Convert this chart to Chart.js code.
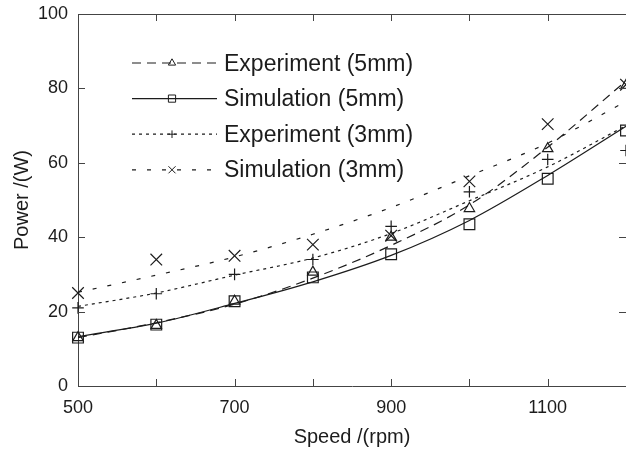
<!DOCTYPE html>
<html><head><meta charset="utf-8">
<script src="https://cdn.jsdelivr.net/npm/chart.js@4.4.0/dist/chart.umd.min.js"></script>
<style>html,body{margin:0;padding:0;background:#fff;overflow:hidden}canvas{display:block}</style>
</head><body>
<canvas id="c" width="626" height="454"></canvas>
<script>
// ---- data ----
const speeds = [500, 600, 700, 800, 900, 1000, 1100, 1200];
// measured markers
const exp5 = [13, 16.3, 22.8, 30.6, 40, 47.7, 63.8, 80.8];
const sim5 = [13, 16.5, 22.8, 29.2, 35.4, 43.5, 55.7, 68.7];
const exp3 = [21, 24.8, 30, 34, 42.9, 52.2, 60.9, 63.3];
const sim3 = [25, 34, 35, 38, 40.4, 55, 70.4, 81];
// trend curves at each speed
const exp5Fit = [13, 17, 22, 29, 37.8, 48.7, 64.2, 82];
const sim5Fit = [13.3, 16.9, 22.2, 28, 35.1, 44.5, 56.6, 69.8];
const exp3Fit = [21.4, 25, 29.8, 34.4, 41, 49.8, 58.9, 70];
const sim3Fit = [25.2, 29.8, 34.7, 40.8, 48, 56.5, 65.3, 76.5];
const labels = ['Experiment (5mm)', 'Simulation (5mm)', 'Experiment (3mm)', 'Simulation (3mm)'];
const xLabelValues = [500, 700, 900, 1100];
const yRange = [0, 100];
const xRange = [500, 1200];

const FONT = "'Liberation Sans', Arial, Helvetica, sans-serif";
const INK = '#1c1c1c';
const AXIS = '#444';

const styles = [
  {dash: [9, 6], point: 'triangle', r: 6, lr: 4.2},
  {dash: [], point: 'rect', r: 7.6, lr: 3.6},
  {dash: [3, 4], point: 'cross', r: 5.8, lr: 3.8},
  {dash: [4, 11], point: 'crossRot', r: 8.2, lr: 5},
];
const markSets = [exp5, sim5, exp3, sim3];
const fitSets = [exp5Fit, sim5Fit, exp3Fit, sim3Fit];

function pts(ys) { return speeds.map((x, i) => ({x: x, y: ys[i]})); }

const datasets = [];
labels.forEach((lab, i) => {
  const s = styles[i];
  datasets.push({
    type: 'line', label: lab, data: pts(fitSets[i]),
    borderColor: INK, borderWidth: 1.2, borderDash: s.dash,
    pointRadius: 0, tension: 0.4, cubicInterpolationMode: 'monotone', fill: false
  });
  datasets.push({
    type: 'scatter', label: lab + ' data', data: pts(markSets[i]), showLine: false,
    pointStyle: s.point, pointRadius: s.r, pointHoverRadius: s.r,
    pointBorderColor: INK, pointBackgroundColor: 'rgba(0,0,0,0)', pointBorderWidth: 1.2,
    clip: false
  });
});

function drawMarker(ctx, style, x, y, r) {
  ctx.beginPath();
  if (style === 'triangle') {
    for (let k = 0; k < 3; k++) {
      const a = k * 2 * Math.PI / 3;
      const px = x + Math.sin(a) * r, py = y - Math.cos(a) * r;
      if (k === 0) ctx.moveTo(px, py); else ctx.lineTo(px, py);
    }
    ctx.closePath();
  } else if (style === 'rect') {
    ctx.rect(x - r, y - r, 2 * r, 2 * r);
  } else if (style === 'cross') {
    ctx.moveTo(x - r, y); ctx.lineTo(x + r, y);
    ctx.moveTo(x, y - r); ctx.lineTo(x, y + r);
  } else {
    const d = r * Math.SQRT1_2;
    ctx.moveTo(x - d, y - d); ctx.lineTo(x + d, y + d);
    ctx.moveTo(x - d, y + d); ctx.lineTo(x + d, y - d);
  }
  ctx.stroke();
}

const framePlugin = {
  id: 'frame',
  afterDraw(chart) {
    const ctx = chart.ctx;
    const a = chart.chartArea;
    const xs = chart.scales.x, ys = chart.scales.y;
    ctx.save();
    ctx.strokeStyle = AXIS;
    ctx.lineWidth = 1;
    ctx.setLineDash([]);
    // top frame
    ctx.beginPath();
    ctx.moveTo(a.left, Math.round(a.top) + 0.5);
    ctx.lineTo(a.right, Math.round(a.top) + 0.5);
    ctx.stroke();
    // inward ticks
    const TL = 7;
    ctx.beginPath();
    xs.ticks.forEach(t => {
      const px = Math.round(xs.getPixelForValue(t.value)) + 0.5;
      ctx.moveTo(px, a.bottom); ctx.lineTo(px, a.bottom - TL);
      ctx.moveTo(px, a.top); ctx.lineTo(px, a.top + TL);
    });
    ys.ticks.forEach(t => {
      const py = Math.round(ys.getPixelForValue(t.value)) + 0.5;
      ctx.moveTo(a.left, py); ctx.lineTo(a.left + TL, py);
      ctx.moveTo(a.right, py); ctx.lineTo(a.right - TL, py);
    });
    ctx.stroke();

    // legend
    const x0 = 132, x1 = 217, mx = 172, tx = 224;
    labels.forEach((lab, i) => {
      const s = styles[i];
      const y = 63 + i * 35.6;
      ctx.strokeStyle = INK;
      ctx.lineWidth = 1.2;
      ctx.setLineDash(s.dash);
      ctx.beginPath();
      ctx.moveTo(x0, y); ctx.lineTo(x1, y);
      ctx.stroke();
      ctx.setLineDash([]);
      ctx.lineWidth = 1;
      drawMarker(ctx, s.point, mx, y, s.lr);
      ctx.fillStyle = INK;
      ctx.font = '23px ' + FONT;
      ctx.textBaseline = 'alphabetic';
      ctx.textAlign = 'left';
      ctx.fillText(lab, tx, y + 7.5);
    });
    ctx.restore();
  }
};

new Chart(document.getElementById('c'), {
  data: {datasets: datasets},
  options: {
    responsive: false,
    animation: false,
    devicePixelRatio: 1,
    layout: {autoPadding: false, padding: {top: 14, left: 0, right: 0, bottom: 0}},
    plugins: {legend: {display: false}, tooltip: {enabled: false}},
    events: [],
    scales: {
      x: {
        type: 'linear', min: xRange[0], max: xRange[1],
        afterFit: (ax) => { ax.height = 68; ax.paddingRight = 0; ax.paddingLeft = 0; },
        grid: {display: false, drawTicks: false},
        border: {display: true, color: AXIS, width: 1},
        ticks: {
          stepSize: 100, autoSkip: false, maxRotation: 0, padding: 11,
          color: INK, font: {family: FONT, size: 18},
          callback: (v) => xLabelValues.includes(v) ? String(v) : ''
        },
        title: {display: true, text: 'Speed /(rpm)', color: INK,
          font: {family: FONT, size: 20}, padding: {top: 4, bottom: 5}}
      },
      y: {
        type: 'linear', min: yRange[0], max: yRange[1],
        afterFit: (ax) => { ax.width = 78; ax.paddingTop = 0; ax.paddingBottom = 0; },
        grid: {display: false, drawTicks: false},
        border: {display: true, color: AXIS, width: 1},
        ticks: {stepSize: 20, padding: 10, color: INK, font: {family: FONT, size: 18}},
        title: {display: true, text: 'Power /(W)', color: INK,
          font: {family: FONT, size: 20}, padding: {top: 10, bottom: 4}}
      }
    }
  },
  plugins: [framePlugin]
});
</script>
</body></html>
